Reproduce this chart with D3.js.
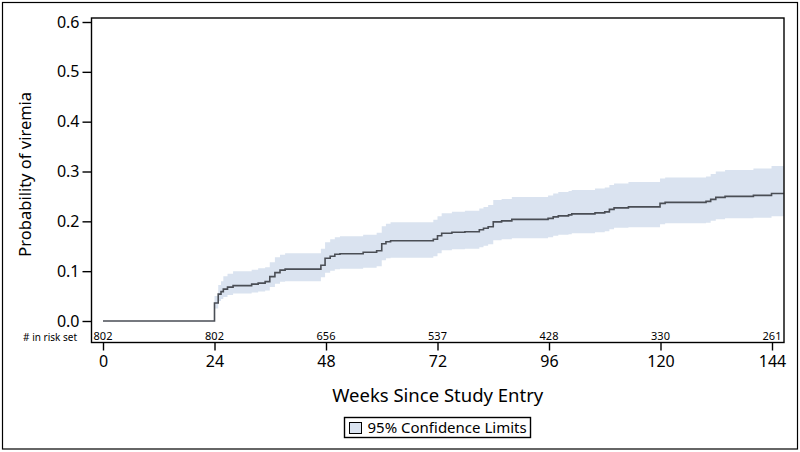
<!DOCTYPE html>
<html>
<head>
<meta charset="utf-8">
<script src="https://cdn.jsdelivr.net/npm/d3@7"></script>
<style>
  body { margin: 0; background: #fff; }
  text { font-family: "Noto Sans", "Open Sans", sans-serif; fill: #000; }
</style>
</head>
<body>
<div id="main"></div>
<script>
// step times (weeks) and estimates
const weeks = [0, 24, 24.8, 25.4, 25.9, 26.8, 28.0, 32.0, 33.4, 34.9, 35.9, 37.0, 38.1, 39.2,
    46.9, 47.8, 48.9, 49.9, 51.0, 56.0, 58.9, 60.0, 60.9, 61.9, 71.1, 72.0, 72.9, 75.1,
    77.9, 81.0, 81.9, 82.9, 84.0, 85.8, 88.0, 95.8, 96.9, 98.0, 100.2, 100.9, 105.9, 108.0,
    109.0, 110.0, 113.1, 119.9, 121.0, 129.8, 130.8, 131.9, 133.9, 140.0, 143.9];
const prob = [0, 0.036, 0.054, 0.059, 0.064, 0.068, 0.071, 0.074, 0.076, 0.079, 0.089, 0.097, 0.102, 0.104,
    0.112, 0.126, 0.130, 0.134, 0.135, 0.138, 0.141, 0.155, 0.159, 0.161, 0.164, 0.171, 0.176, 0.178,
    0.179, 0.183, 0.186, 0.189, 0.199, 0.201, 0.204, 0.206, 0.209, 0.211, 0.213, 0.215, 0.217, 0.219,
    0.224, 0.227, 0.229, 0.236, 0.238, 0.240, 0.244, 0.248, 0.250, 0.252, 0.256];
const lower = [0, 0.025, 0.040, 0.044, 0.048, 0.052, 0.055, 0.057, 0.059, 0.061, 0.068, 0.075, 0.079, 0.080,
    0.088, 0.097, 0.101, 0.104, 0.105, 0.107, 0.110, 0.122, 0.126, 0.127, 0.130, 0.136, 0.142, 0.144,
    0.145, 0.148, 0.151, 0.154, 0.162, 0.164, 0.166, 0.168, 0.171, 0.173, 0.174, 0.176, 0.178, 0.180,
    0.184, 0.187, 0.188, 0.194, 0.196, 0.197, 0.201, 0.204, 0.206, 0.207, 0.210];
const upper = [0, 0.050, 0.072, 0.080, 0.090, 0.095, 0.100, 0.103, 0.106, 0.108, 0.118, 0.128, 0.133, 0.136,
    0.145, 0.158, 0.164, 0.168, 0.170, 0.173, 0.177, 0.190, 0.195, 0.198, 0.203, 0.210, 0.216, 0.219,
    0.221, 0.226, 0.229, 0.233, 0.243, 0.245, 0.249, 0.252, 0.256, 0.259, 0.261, 0.263, 0.266, 0.268,
    0.273, 0.276, 0.279, 0.286, 0.288, 0.290, 0.295, 0.300, 0.303, 0.306, 0.311];
const lastFollowUp = 146.5;

const xTicks = [0, 24, 48, 72, 96, 120, 144];
const yTicks = [0, 0.1, 0.2, 0.3, 0.4, 0.5, 0.6];
const riskWeeks = [0, 24, 48, 72, 96, 120, 144];
const riskCounts = [802, 802, 656, 537, 428, 330, 261];

const ctx = {
    WIDTH: 800,
    HEIGHT: 452,
    left: 91.5,
    right: 784,
    top: 18,
    bottom: 342.5,
};

function drawChart(){
    let svgEl = d3.select("svg");

    // outer border
    svgEl.append("rect")
        .attr("x", 2.5).attr("y", 2.5)
        .attr("width", 795).attr("height", 446.5)
        .attr("fill", "none").attr("stroke", "#000").attr("stroke-width", 1.2);

    const x = d3.scaleLinear().domain([0, 144]).range([103, 772]);
    const y = d3.scaleLinear().domain([0, 0.6]).range([321, 22]);

    const pts = weeks.map((w, i) => ({w: w, p: prob[i], lo: lower[i], hi: upper[i]}));
    pts.push({w: lastFollowUp, p: prob[prob.length - 1], lo: lower[lower.length - 1], hi: upper[upper.length - 1]});

    // confidence band
    const band = d3.area()
        .curve(d3.curveStepAfter)
        .x(d => x(d.w))
        .y0(d => y(d.lo))
        .y1(d => y(d.hi));
    svgEl.append("path")
        .datum(pts.filter(d => d.w >= 24))
        .attr("d", band)
        .attr("fill", "#dae3f0");

    // step curve
    const line = d3.line()
        .curve(d3.curveStepAfter)
        .x(d => x(d.w))
        .y(d => y(d.p));
    svgEl.append("path")
        .datum(pts)
        .attr("d", line)
        .attr("fill", "none")
        .attr("stroke", "#4a4e55")
        .attr("stroke-width", 1.6);

    // frame
    svgEl.append("rect")
        .attr("x", ctx.left).attr("y", ctx.top)
        .attr("width", ctx.right - ctx.left).attr("height", ctx.bottom - ctx.top)
        .attr("fill", "none").attr("stroke", "#000").attr("stroke-width", 1.4);

    // y axis
    const yAxis = d3.axisLeft(y).tickValues(yTicks).tickFormat(d3.format(".1f"))
        .tickSize(9).tickPadding(3);
    const yG = svgEl.append("g").attr("transform", `translate(${ctx.left},0)`).call(yAxis);
    yG.select(".domain").remove();
    yG.selectAll("line").attr("stroke-width", 1.4);
    yG.selectAll("text").attr("font-size", 16).attr("font-family", "Noto Sans");

    // x axis
    const xAxis = d3.axisBottom(x).tickValues(xTicks).tickSize(8).tickPadding(5);
    const xG = svgEl.append("g").attr("transform", `translate(0,${ctx.bottom})`).call(xAxis);
    xG.select(".domain").remove();
    xG.selectAll("line").attr("stroke-width", 1.4);
    xG.selectAll("text").attr("font-size", 16).attr("font-family", "Noto Sans");

    // risk set row
    svgEl.append("text")
        .attr("x", 77).attr("y", 341)
        .attr("text-anchor", "end")
        .attr("font-size", 10)
        .text("# in risk set");
    svgEl.selectAll(".risk")
        .data(riskWeeks)
        .enter()
        .append("text")
        .attr("class", "risk")
        .attr("x", d => x(d))
        .attr("y", 339.5)
        .attr("text-anchor", "middle")
        .attr("font-size", 11)
        .text((d, i) => riskCounts[i]);

    // titles
    svgEl.append("text")
        .attr("x", (ctx.left + ctx.right) / 2).attr("y", 402)
        .attr("text-anchor", "middle")
        .attr("font-size", 18.5)
        .text("Weeks Since Study Entry");
    svgEl.append("text")
        .attr("transform", `translate(31,${(ctx.top + ctx.bottom) / 2 - 6}) rotate(-90)`)
        .attr("text-anchor", "middle")
        .attr("font-size", 16.5)
        .text("Probability of viremia");

    // legend
    const lg = svgEl.append("g");
    lg.append("rect")
        .attr("x", 344.5).attr("y", 417.5).attr("width", 186).attr("height", 20)
        .attr("fill", "#fff").attr("stroke", "#000").attr("stroke-width", 1.4);
    lg.append("rect")
        .attr("x", 349.5).attr("y", 422.5).attr("width", 12).attr("height", 11)
        .attr("fill", "#dae3f0").attr("stroke", "#000").attr("stroke-width", 1);
    lg.append("text")
        .attr("x", 367.5).attr("y", 433)
        .attr("font-size", 15)
        .text("95% Confidence Limits");
}

function createViz(){
    let svgEl = d3.select("#main").append("svg");
    svgEl.attr("width", ctx.WIDTH);
    svgEl.attr("height", ctx.HEIGHT);
    drawChart();
}

createViz();
</script>
</body>
</html>
